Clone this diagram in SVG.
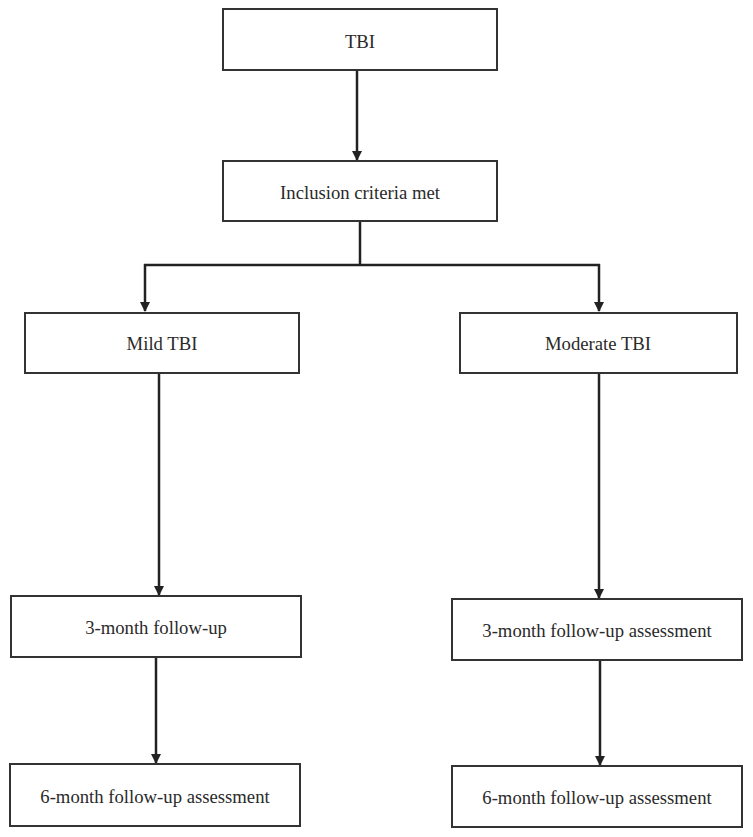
<svg xmlns="http://www.w3.org/2000/svg" width="753" height="837" viewBox="0 0 753 837">
<style>
.box{fill:#fff;stroke:#333;stroke-width:2}
.lbl{font-family:"Liberation Serif","DejaVu Serif",serif;font-size:18.7px;fill:#2a2a2a;text-anchor:middle;dominant-baseline:central}
.conn{fill:none;stroke:#222;stroke-width:2.5}
</style>
<defs>
<marker id="ah" markerWidth="10" markerHeight="10" refX="9" refY="5" orient="auto" markerUnits="userSpaceOnUse">
<path d="M0,0 L10,5 L0,10 Z" fill="#222"/>
</marker>
</defs>
<rect width="753" height="837" fill="#fff"/>
<g id="connectors">
<path class="conn" d="M357,70 V160" marker-end="url(#ah)"/>
<path class="conn" d="M360,221 V265 M144,265 H600"/>
<path class="conn" d="M145,264 V311" marker-end="url(#ah)"/>
<path class="conn" d="M599,264 V311" marker-end="url(#ah)"/>
<path class="conn" d="M159,373 V595" marker-end="url(#ah)"/>
<path class="conn" d="M599,373 V598" marker-end="url(#ah)"/>
<path class="conn" d="M156,657 V763" marker-end="url(#ah)"/>
<path class="conn" d="M600,660 V765" marker-end="url(#ah)"/>
</g>
<g id="tbi"><rect class="box" x="223" y="9" width="274" height="61"/><text class="lbl" x="360" y="41">TBI</text></g>
<g id="inclusion"><rect class="box" x="223" y="161" width="274" height="60"/><text class="lbl" x="360" y="192">Inclusion criteria met</text></g>
<g id="mild"><rect class="box" x="25" y="313" width="274" height="60"/><text class="lbl" x="162" y="343">Mild TBI</text></g>
<g id="moderate"><rect class="box" x="460" y="313" width="277" height="60"/><text class="lbl" x="598" y="343">Moderate TBI</text></g>
<g id="mild3"><rect class="box" x="11" y="596" width="290" height="61"/><text class="lbl" x="156" y="627">3-month follow-up</text></g>
<g id="mild6"><rect class="box" x="10" y="764" width="290" height="62"/><text class="lbl" x="155" y="796">6-month follow-up assessment</text></g>
<g id="mod3"><rect class="box" x="452" y="599" width="290" height="61"/><text class="lbl" x="597" y="630">3-month follow-up assessment</text></g>
<g id="mod6"><rect class="box" x="452" y="766" width="290" height="61"/><text class="lbl" x="597" y="797">6-month follow-up assessment</text></g>
</svg>
